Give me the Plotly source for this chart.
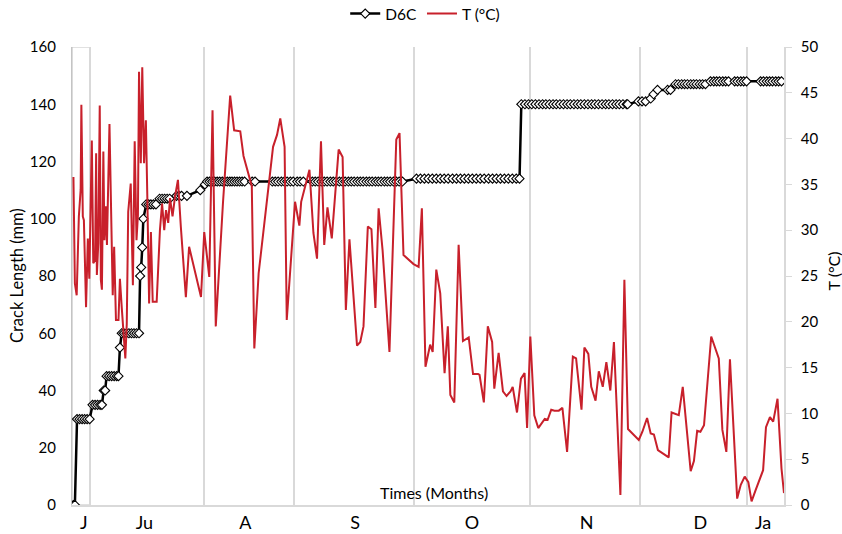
import plotly.graph_objects as go

# ---------------- data ----------------
month_labels = ["J", "Ju", "A", "S", "O", "N", "D", "Ja"]
month_label_pos = [3.3, 20.1, 48.1, 78.6, 111.0, 142.8, 174.4, 191.8]
month_bounds = [5.0, 36.7, 61.7, 94.8, 127.0, 157.5, 187.4]

# crack length D6C (mm), sample index
d6c_x = [0.4, 0.8,
         1.4, 2.1, 2.8, 3.5, 4.2, 4.9,
         5.7, 6.4, 7.1, 7.8, 8.3,
         8.8, 9.2,
         9.6, 10.3, 11.0, 11.7, 12.4, 12.9,
         13.3,
         13.8, 14.4, 15.1, 15.8, 16.5, 17.2, 17.9, 18.6,
         18.9, 19.2, 19.5, 19.8,
         20.6, 21.3, 21.9, 22.6, 23.3,
         24.3, 25.0, 25.7, 26.4, 27.1,
         29.0, 29.7, 30.4, 31.9,
         35.6, 36.9,
         37.5, 38.2, 38.9, 39.6, 40.3, 41.0, 41.7, 42.4, 43.1, 43.8, 44.4, 45.1,
         45.8, 46.5, 47.2, 47.9, 50.0, 50.8, 55.6, 56.4, 57.2, 58.1, 58.9, 59.7,
         60.6, 61.4, 62.5, 63.3, 64.2, 66.7, 67.5, 68.3, 69.2, 70.0, 70.8, 71.7,
         72.5, 73.3, 74.2, 75.0, 75.8, 76.7, 77.5, 78.3, 79.2, 80.0, 80.8, 81.7,
         82.5, 83.3, 84.2, 85.0, 85.8, 86.7, 87.5, 88.3, 89.2, 90.0, 90.8, 91.7,
         95.6, 96.7, 97.8, 98.9, 100.0, 101.1, 102.2, 103.3, 104.4, 105.6, 106.7,
         107.8, 108.9, 110.0, 111.1, 112.2, 113.3, 114.4, 115.6, 116.7, 117.8,
         118.9, 120.0, 121.1, 122.2, 123.3, 124.2,
         124.7, 125.7, 126.7, 127.6, 128.6, 129.6, 130.6, 131.5, 132.5, 133.5,
         134.4, 135.4, 136.4, 137.4, 138.3, 139.3, 140.3, 141.2, 142.2, 143.2,
         144.2, 145.1, 146.1, 147.1, 148.1, 149.0, 150.0, 151.0, 151.9, 152.9,
         153.9, 154.2,
         157.2, 158.2, 159.2, 160.6, 161.4, 162.5, 165.3, 166.1,
         167.5, 168.3, 169.2, 170.0, 170.8, 171.7, 172.5, 173.3, 174.2, 175.0, 175.8,
         177.2, 178.1, 178.9, 179.7, 180.6, 181.4, 182.2, 183.9, 184.7, 185.6,
         186.4, 187.2, 191.1, 191.9, 192.8, 193.6, 194.4, 195.3, 196.1, 196.9]
d6c_y = [0, 0,
         30, 30, 30, 30, 30, 30,
         35, 35, 35, 35, 35,
         40, 40,
         45, 45, 45, 45, 45, 45,
         55,
         60, 60, 60, 60, 60, 60, 60, 60,
         80, 83, 90, 100,
         105, 105, 105, 105, 105,
         107, 107, 107, 107, 107,
         108, 108, 108, 108,
         110, 112,
         113, 113, 113, 113, 113, 113, 113, 113, 113, 113, 113, 113,
         113, 113, 113, 113, 113, 113, 113, 113, 113, 113, 113, 113,
         113, 113, 113, 113, 113, 113, 113, 113, 113, 113, 113, 113,
         113, 113, 113, 113, 113, 113, 113, 113, 113, 113, 113, 113,
         113, 113, 113, 113, 113, 113, 113, 113, 113, 113, 113, 113,
         114, 114, 114, 114, 114, 114, 114, 114, 114, 114, 114,
         114, 114, 114, 114, 114, 114, 114, 114, 114, 114,
         114, 114, 114, 114, 114, 114,
         140, 140, 140, 140, 140, 140, 140, 140, 140, 140,
         140, 140, 140, 140, 140, 140, 140, 140, 140, 140,
         140, 140, 140, 140, 140, 140, 140, 140, 140, 140,
         140, 140,
         141, 141, 141, 142, 143.5, 145, 145, 145,
         147, 147, 147, 147, 147, 147, 147, 147, 147, 147, 147,
         148, 148, 148, 148, 148, 148, 148, 148, 148, 148,
         148, 148, 148, 148, 148, 148, 148, 148, 148, 148]

# temperature T (°C), sample index
t_x = [0.4, 0.8, 1.3, 1.9, 2.4, 2.6, 3.0, 3.3, 3.9, 4.4, 4.8, 5.5, 5.9, 6.4,
       6.7, 6.9, 7.3, 7.7, 8.0, 8.3, 8.7, 9.0, 9.4, 9.7, 10.4, 10.8, 11.3,
       11.7, 12.2, 12.9, 13.3, 13.8, 14.3, 14.8, 15.2, 15.6, 16.3, 16.9, 17.4,
       17.9, 18.3, 18.6, 19.1, 19.5, 20.0, 20.5, 20.9, 21.4, 21.9, 22.4, 23.5,
       24.4, 25.0, 25.6, 26.1, 26.7, 27.2, 27.9, 28.6, 29.4, 30.2, 31.6, 32.5,
       34.2, 35.8, 36.7, 38.1, 39.0,
       39.9, 41.9, 43.9, 45.0, 46.7, 47.6, 49.9, 50.6, 51.8, 55.8, 56.9, 57.8,
       59.0, 59.6, 61.9, 63.1, 63.6, 65.9, 67.0, 68.0, 69.1, 70.0, 70.9, 72.1,
       74.0, 75.1, 76.0, 77.0, 79.1, 80.0, 80.9, 82.1, 83.1, 84.2, 85.1, 86.2,
       88.1, 90.0, 90.9, 92.0, 94.8, 96.2, 97.1, 98.1, 98.6, 99.4, 100.1,
       101.1, 102.2, 103.4, 104.3, 105.0, 106.1, 107.3, 108.5, 110.1, 111.3,
       112.7, 113.1, 114.3, 115.4, 116.6, 117.2, 118.4, 119.6, 120.6, 121.7,
       122.3, 123.5, 124.6, 125.6, 126.3, 127.2, 128.3, 129.4, 130.2, 131.2,
       132.0, 133.0, 133.9, 135.1, 136.1, 137.4, 139.0, 139.9, 141.4, 142.2,
       143.3, 144.1, 145.3, 146.2, 147.3, 148.3, 149.4, 150.4, 152.2, 153.3,
       154.3, 157.3, 158.3, 159.6, 160.6, 161.5, 162.6, 165.6, 166.4, 168.4,
       169.5, 171.7, 172.6, 173.5, 174.4, 175.4, 177.4, 179.5, 180.5, 181.6,
       182.6, 184.6, 185.6, 186.7, 187.7, 188.6, 189.7, 191.8, 192.6, 193.7,
       194.6, 195.8, 196.9, 197.6]
t_y = [35.8, 24.2, 22.9, 31.5, 34.4, 43.7, 31.5, 31.1, 21.6, 29.1, 24.7, 39.8,
       26.4, 26.7, 38.4, 25.1, 28.6, 43.6, 24.6, 23.5, 38.6, 28.9, 32.6, 28.4,
       41.6, 34.4, 22.9, 28.2, 20.2, 20.2, 24.7, 21.6, 19.1, 16.0, 19.8, 32.0,
       35.1, 24.0, 39.7, 28.9, 31.7, 47.3, 37.3, 47.8, 37.3, 42.0, 33.7, 22.0,
       29.8, 22.2, 22.2, 30.0, 32.9, 30.0, 32.2, 30.8, 33.5, 31.5, 33.7, 35.5,
       30.4, 22.7, 28.2, 25.3, 22.7, 29.8, 24.9, 43.1,
       19.5, 33.0, 44.7, 40.9, 40.8, 38.1, 34.8, 17.1, 25.3, 39.1, 40.4, 42.2,
       39.1, 20.2, 33.1, 30.5, 33.1, 36.6, 29.7, 26.9, 39.7, 28.4, 32.5, 29.1,
       38.8, 38.0, 21.3, 29.0, 17.4, 17.8, 19.5, 30.4, 30.1, 21.5, 32.4, 27.8,
       16.7, 39.9, 40.6, 27.3, 26.3, 26.0, 32.4, 15.1, 16.0, 17.5, 16.7,
       25.7, 23.1, 14.4, 19.5, 12.0, 11.2, 28.4, 17.9, 18.3, 14.3,
       14.3, 14.2, 11.2, 19.5, 17.8, 12.7, 16.6, 12.4, 11.9, 12.4,
       12.9, 10.1, 13.8, 14.4, 8.4, 18.4, 9.8, 8.4, 8.8, 9.4,
       9.3, 10.4, 10.3, 10.3, 10.6, 5.8, 16.2, 16.0, 10.4, 17.2,
       16.5, 12.9, 11.4, 14.6, 12.9, 15.6, 12.5, 17.8, 1.1, 24.6,
       8.3, 7.1, 8.0, 9.5, 7.8, 7.7, 6.0, 5.2, 10.1, 9.8,
       12.9, 3.7, 4.8, 8.1, 8.0, 8.7, 18.4, 16.0, 8.2, 5.8,
       15.9, 0.7, 2.2, 3.1, 2.5, 0.4, 1.6, 3.8, 8.5, 9.6,
       9.1, 11.6, 4.0, 1.3]

left_ticks = [0, 20, 40, 60, 80, 100, 120, 140, 160]
right_ticks = [0, 5, 10, 15, 20, 25, 30, 35, 40, 45, 50]

# ---------------- figure ----------------
FONT = "Lato, 'Open Sans', sans-serif"
RED = "#c8202b"
GRID = "#d9d9d9"

fig = go.Figure()
fig.add_trace(go.Scatter(
    x=d6c_x, y=d6c_y, name="D6C", mode="lines+markers",
    line=dict(color="black", width=2.5),
    marker=dict(symbol="diamond", size=7, color="white",
                line=dict(color="black", width=1.1)),
    yaxis="y"))
fig.add_trace(go.Scatter(
    x=t_x, y=t_y, name="T (°C)", mode="lines",
    line=dict(color=RED, width=2),
    yaxis="y2"))

fig.update_layout(
    width=842, height=534,
    margin=dict(l=72, r=58, t=47, b=29, autoexpand=False),
    paper_bgcolor="white", plot_bgcolor="white",
    font=dict(family=FONT, size=15, color="black"),
    showlegend=True,
    legend=dict(orientation="h", xref="container", yref="container",
                x=0.505, xanchor="center", y=1 - 14 / 534, yanchor="middle",
                font=dict(size=15.5), itemwidth=30, tracegroupgap=0,
                bgcolor="rgba(0,0,0,0)"),
    xaxis=dict(
        range=[0, 197.6], tickmode="array", tickvals=month_label_pos,
        ticktext=month_labels, showgrid=False, zeroline=False,
        ticks="", tickfont=dict(size=18), ticklabelstandoff=1,
        showline=True, linecolor=GRID, linewidth=1.5, automargin=False,
        minor=dict(tickmode="array", tickvals=month_bounds, showgrid=True,
                   gridcolor=GRID, gridwidth=1.5, ticks=""),
    ),
    yaxis=dict(
        range=[0, 160], tickmode="array", tickvals=left_ticks,
        showgrid=False, zeroline=False, ticks="", automargin=False,
        showline=True, linecolor="#c4c4c4", linewidth=1.2,
        ticklabelstandoff=12, tickfont=dict(size=15),
    ),
    yaxis2=dict(
        range=[0, 50], tickmode="array", tickvals=right_ticks,
        overlaying="y", side="right", showgrid=False, zeroline=False,
        ticks="outside", ticklen=6, tickcolor=GRID, tickwidth=1.2,
        showline=True, linecolor=GRID, linewidth=1.5, automargin=False,
        ticklabelstandoff=6, tickfont=dict(size=15),
    ),
    shapes=[dict(type="rect", xref="x", yref="y", x0=0, x1=month_bounds[0],
                 y0=0, y1=160, line=dict(color="#c4c4c4", width=1.2),
                 fillcolor="rgba(0,0,0,0)", layer="below")],
    annotations=[
        dict(text="Crack Length (mm)", xref="paper", yref="paper", x=0, y=0.5,
             xanchor="center", yanchor="middle", xshift=-55, textangle=-90,
             showarrow=False, font=dict(size=16.5)),
        dict(text="T (°C)", xref="paper", yref="paper", x=1, y=0.51,
             xanchor="center", yanchor="middle", xshift=49, textangle=-90,
             showarrow=False, font=dict(size=16)),
        dict(text="Times (Months)", xref="paper", yref="paper", x=0.508, y=0.028,
             xanchor="center", yanchor="middle",
             showarrow=False, font=dict(size=16)),
    ],
)

fig.write_html("out.html", config={"displayModeBar": False},
               post_script="document.body.style.margin='0px';")
